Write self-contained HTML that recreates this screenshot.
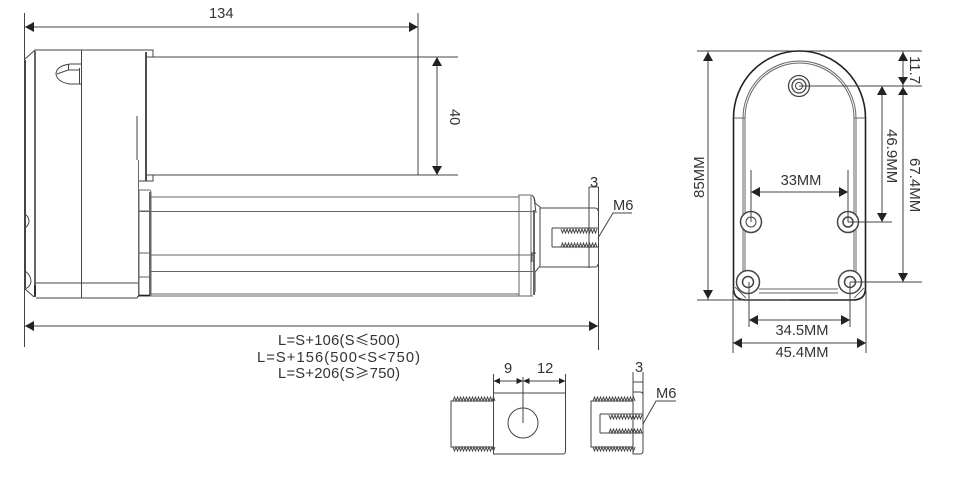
<!DOCTYPE html>
<html><head><meta charset="utf-8"><style>
html,body{margin:0;padding:0;background:#fff;width:964px;height:482px;overflow:hidden}
svg{display:block}
text{font-family:"Liberation Sans","Noto Sans CJK SC",sans-serif;font-size:14.7px;fill:#333}
.cjk{font-family:"Noto Sans CJK SC",sans-serif}
.v{font-size:15px}
.l{stroke:#444;stroke-width:1;fill:none}
.t{stroke:#666;stroke-width:2;fill:none}
.k{stroke:#222;stroke-width:1.6;fill:none}
.g{stroke:#666;stroke-width:1;fill:none}
.a{fill:#222;stroke:none}
</style></head><body>
<svg width="964" height="482" viewBox="0 0 964 482" xmlns="http://www.w3.org/2000/svg">
<defs>
<pattern id="up" x="0" y="0" width="3" height="4" patternUnits="objectBoundingBox" patternContentUnits="userSpaceOnUse"></pattern>
</defs>

<!-- left view: datum and body -->
<path class="l" d="M24.500 13V347"/>
<path class="t" d="M25 60V288" style="stroke:#444"/>
<path class="l" d="M25 59L35 50H146M81.500 50V298"/>
<path class="t" d="M35 51V296"/>
<path class="k" d="M146 52V181"/>
<path class="l" d="M146 50H153V57H146M146 175H153V181H146M139 181H146"/>
<path class="l" d="M137 116V160"/>
<path class="g" d="M138.500 160V297"/>
<path class="l" d="M81 64H70Q56 66 56 74Q57 82 70 84H81M68.500 64V70M57 74L68 70H80M79.500 68V84"/>
<path class="l" d="M25 214Q29 217 29 221Q29 225 25 228M25 271Q31 275 31 282Q30 287 25 289M25 289L34 297M35 283H138M36 298H137L138 296"/>
<path class="k" d="M35 285V297"/>

<!-- 134 dim -->
<path class="l" d="M25 27H418M418 13V175"/>
<path class="a" d="M25 27L34 22V32Z"/>
<path class="a" d="M418 27L409 22V32Z"/>
<text x="209" y="18">134</text>

<!-- motor -->
<path class="l" d="M153 57H458M153 175H458"/>
<path class="l" d="M437 57V175"/>
<path class="a" d="M437 57L432 66H442Z"/>
<path class="a" d="M437 175L432 166H442Z"/>
<text transform="translate(450,109) rotate(90)">40</text>

<!-- tube -->
<path class="g" d="M139 190H149Q151 190 151 193V296H139ZM139 211H151M139 253H151M139 277H151"/>
<path class="t" d="M150 192V295"/>
<path class="k" d="M139 295.500H150"/>
<path class="g" d="M151 197H519M139 211.500H533M151 255H533M151 271.500H533M151 294H519M151 296H533"/>
<path class="g" d="M519 195H531V296H519Z"/>
<path class="l" d="M532 195Q535 198 535 203L540 207V266L535 272V292"/>
<path class="t" d="M534 210V295"/>
<path class="l" d="M536 253H532V262M534 197L536 213"/>
<path class="l" d="M540 208H595Q598 208 598 211M540 267H595Q598 267 598 264"/>
<path class="l" d="M589 187V268M598.500 187V350M589 187H598.500"/>
<path class="l" d="M552 228H598M552 247H598M552 228V247"/>
<path class="l" d="M561 229l1.500 4 1.500-4 1.500 4 1.500-4 1.500 4 1.500-4 1.500 4 1.500-4 1.500 4 1.500-4 1.500 4 1.500-4 1.500 4 1.500-4 1.500 4 1.500-4 1.500 4 1.500-4 1.500 4 1.500-4 1.500 4 1.500-4 1.500 4 1.500-4"/>
<path class="l" d="M561 247l1.500-4 1.500 4 1.500-4 1.500 4 1.500-4 1.500 4 1.500-4 1.500 4 1.500-4 1.500 4 1.500-4 1.500 4 1.500-4 1.500 4 1.500-4 1.500 4 1.500-4 1.500 4 1.500-4 1.500 4 1.500-4 1.500 4 1.500-4 1.500 4"/>
<path class="l" d="M598 238L613 213H632"/>
<text x="590" y="187">3</text>
<text x="613" y="210">M6</text>

<!-- L dim -->
<path class="l" d="M25 326H598"/>
<path class="a" d="M25 326L34 321V331Z"/>
<path class="a" d="M598 326L589 321V331Z"/>
<text x="278" y="345" textLength="122">L=S+106(S<tspan class="cjk">≤</tspan>500)</text>
<text x="257" y="362" textLength="163">L=S+156(500<tspan class="cjk">&lt;</tspan>S<tspan class="cjk">&lt;</tspan>750)</text>
<text x="278" y="378" textLength="122">L=S+206(S<tspan class="cjk">≥</tspan>750)</text>

<!-- bottom detail left -->
<path class="l" d="M493.500 374V454H563Q565.500 454 565.500 451V374M493.500 393H565.500"/>
<path class="l" d="M493 401H451V447H493"/>
<path class="l" d="M453 401l1.500-4 1.500 4 1.500-4 1.500 4 1.500-4 1.500 4 1.500-4 1.500 4 1.500-4 1.500 4 1.500-4 1.500 4 1.500-4 1.500 4 1.500-4 1.500 4 1.500-4 1.500 4 1.500-4 1.500 4 1.500-4 1.500 4 1.500-4 1.500 4 1.500-4 1.500 4 1.500-4 1.500 4"/>
<path class="l" d="M453 447l1.500 4 1.500-4 1.500 4 1.500-4 1.500 4 1.500-4 1.500 4 1.500-4 1.500 4 1.500-4 1.500 4 1.500-4 1.500 4 1.500-4 1.500 4 1.500-4 1.500 4 1.500-4 1.500 4 1.500-4 1.500 4 1.500-4 1.500 4 1.500-4 1.500 4 1.500-4 1.500 4 1.500-4"/>
<circle class="l" cx="523" cy="423" r="15"/>
<path class="l" d="M523 377V423M493.500 381H565.500"/>
<path class="a" d="M493.500 381L500 378V384Z"/>
<path class="a" d="M523 381L516.500 378V384Z"/>
<path class="a" d="M523 381L529.500 378V384Z"/>
<path class="a" d="M565.500 381L559 378V384Z"/>
<text x="504" y="373">9</text>
<text x="537" y="373">12</text>

<!-- bottom detail right -->
<path class="l" d="M633 372V454H640Q643 454 643 451V372M633 382H643M633 392H640Q643 392 643 395"/>
<path class="l" d="M633 401H591V447H633"/>
<path class="l" d="M593 401l1.500-4 1.500 4 1.500-4 1.500 4 1.500-4 1.500 4 1.500-4 1.500 4 1.500-4 1.500 4 1.500-4 1.500 4 1.500-4 1.500 4 1.500-4 1.500 4 1.500-4 1.500 4 1.500-4 1.500 4 1.500-4 1.500 4 1.500-4 1.500 4 1.500-4 1.500 4 1.500-4 1.500 4"/>
<path class="l" d="M593 447l1.500 4 1.500-4 1.500 4 1.500-4 1.500 4 1.500-4 1.500 4 1.500-4 1.500 4 1.500-4 1.500 4 1.500-4 1.500 4 1.500-4 1.500 4 1.500-4 1.500 4 1.500-4 1.500 4 1.500-4 1.500 4 1.500-4 1.500 4 1.500-4 1.500 4 1.500-4 1.500 4 1.500-4"/>
<path class="l" d="M600 414H643M600 433H643M600 414V433"/>
<path class="l" d="M609 415l1.500 4 1.500-4 1.500 4 1.500-4 1.500 4 1.500-4 1.500 4 1.500-4 1.500 4 1.500-4 1.500 4 1.500-4 1.500 4 1.500-4 1.500 4 1.500-4 1.500 4 1.500-4 1.500 4 1.500-4 1.500 4 1.500-4"/>
<path class="l" d="M609 433l1.500-4 1.500 4 1.500-4 1.500 4 1.500-4 1.500 4 1.500-4 1.500 4 1.500-4 1.500 4 1.500-4 1.500 4 1.500-4 1.500 4 1.500-4 1.500 4 1.500-4 1.500 4 1.500-4 1.500 4 1.500-4 1.500 4"/>
<path class="l" d="M643 424L656 401H676"/>
<text x="635" y="372">3</text>
<text x="656" y="398">M6</text>

<!-- right view plate -->
<path class="l" d="M697 51H922"/>
<path class="k" d="M733.500 118A66 67 0 0 1 865.500 118V288Q865.500 300 853 300H746Q733.500 300 733.500 288Z"/>
<path class="g" d="M743 118A56.500 57 0 0 1 856 118V285M745 118A54.500 55 0 0 1 854 118V285M743 118V285M745 118V285M734 118H745M854 118H865M759 289H838M759 293H838M735 287L746 298M854 298L864 288"/>

<circle class="l" cx="799" cy="86" r="10.500" style="stroke-width:1.300"/>
<circle class="l" cx="799" cy="86" r="7" style="stroke-width:1.300"/>
<circle class="l" cx="799" cy="86" r="3.500"/>
<circle class="l" cx="751" cy="222" r="10.500" style="fill:#fff;stroke-width:1.500"/>
<circle class="l" cx="751" cy="222" r="5"/>
<circle class="l" cx="848" cy="222" r="10.500" style="fill:#fff;stroke-width:1.500"/>
<circle class="l" cx="848" cy="222" r="5" style="stroke-width:1.500"/>
<circle class="l" cx="748" cy="282" r="11.500" style="fill:#fff;stroke-width:1.500"/>
<circle class="l" cx="748" cy="282" r="5.500" style="stroke-width:1.500"/>
<circle class="l" cx="850" cy="282" r="11.500" style="fill:#fff;stroke-width:1.500"/>
<circle class="l" cx="850" cy="282" r="5.500" style="stroke-width:1.500"/>

<!-- right view dims -->
<path class="l" d="M697 300H790M708 51V300"/>
<path class="a" d="M708 52L703 61H713Z"/>
<path class="a" d="M708 299L703 290H713Z"/>
<text class="v" transform="translate(704,198) rotate(-90)">85MM</text>

<path class="l" d="M799 86H922M848 222H892M850 282H922"/>
<path class="l" d="M903 51V282M882 86V222"/>
<path class="a" d="M903 52L898 61H908Z"/>
<path class="a" d="M903 85L898 77H908Z"/>
<path class="a" d="M903 87L898 95H908Z"/>
<path class="a" d="M903 282L898 273H908Z"/>
<path class="a" d="M882 86L877 95H887Z"/>
<path class="a" d="M882 222L877 213H887Z"/>
<text class="v" transform="translate(887,129) rotate(90)">46.9MM</text>
<text class="v" transform="translate(910,158) rotate(90)">67.4MM</text>
<text class="v" transform="translate(910,56) rotate(90)">11.7</text>

<path class="l" d="M751 170V222M848 170V222M751 192H848"/>
<path class="a" d="M751 192L760 187V197Z"/>
<path class="a" d="M848 192L839 187V197Z"/>
<text x="801" y="185" text-anchor="middle">33MM</text>

<path class="l" d="M749 282V327M850 282V327M749 320H850"/>
<path class="a" d="M749 320L758 315V325Z"/>
<path class="a" d="M850 320L841 315V325Z"/>
<text x="802" y="335" text-anchor="middle">34.5MM</text>

<path class="l" d="M733 290V353M866 290V353M733 343H866"/>
<path class="a" d="M733 343L742 338V348Z"/>
<path class="a" d="M866 343L857 338V348Z"/>
<text x="802" y="357" text-anchor="middle">45.4MM</text>
</svg>
</body></html>
